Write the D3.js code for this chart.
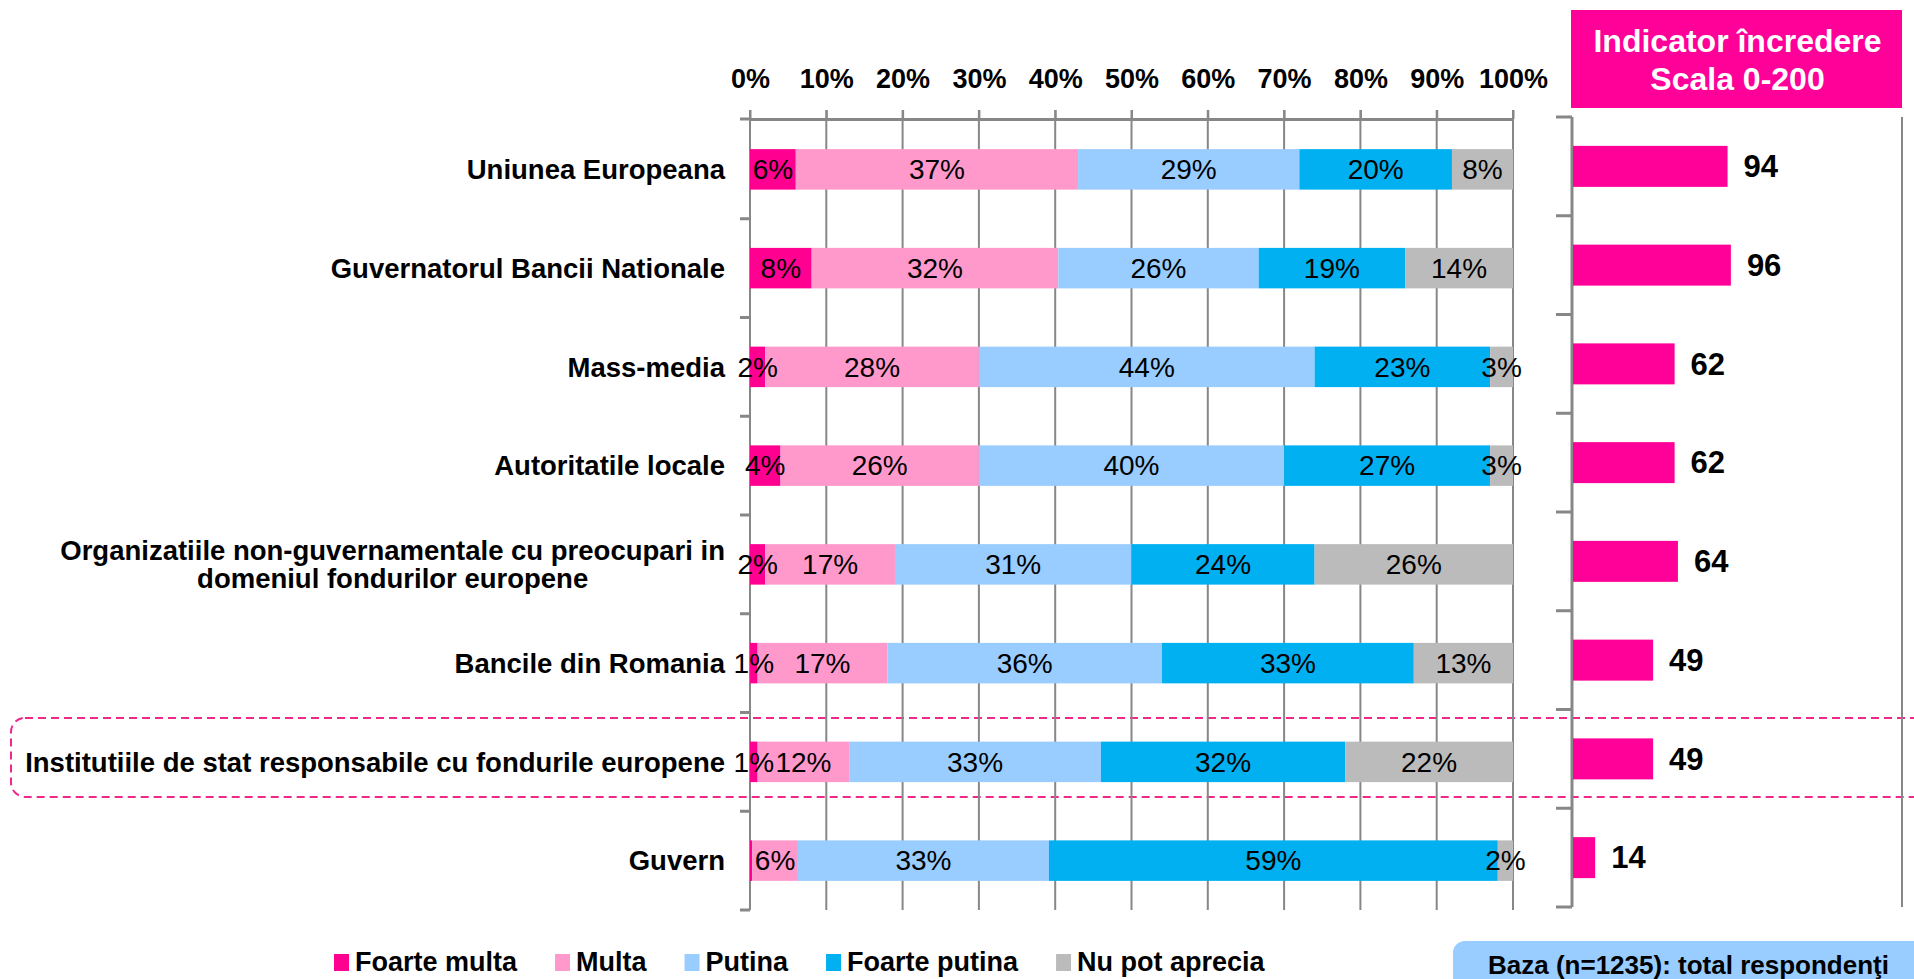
<!DOCTYPE html>
<html>
<head>
<meta charset="utf-8">
<script src="https://cdn.jsdelivr.net/npm/d3@7"></script>
<style>
  body { margin: 0; background: #fff; }
  svg { display: block; font-family: "Liberation Sans", Arial, sans-serif; }
</style>
</head>
<body>
<script>
const categories = [
	'Uniunea Europeana',
	'Guvernatorul Bancii Nationale',
	'Mass-media',
	'Autoritatile locale',
	'Organizatiile non-guvernamentale cu preocupari in domeniul fondurilor europene',
	'Bancile din Romania',
	'Institutiile de stat responsabile cu fondurile europene',
	'Guvern'
];
const series = ['Foarte multa', 'Multa', 'Putina', 'Foarte putina', 'Nu pot aprecia'];
const colors = ['#ff0090', '#ff99cc', '#99ccff', '#00b0f0', '#bbbbbb'];

const foarteMulta  = [6, 8, 2, 4, 2, 1, 1, 0.3];
const multa        = [37, 32, 28, 26, 17, 17, 12, 6];
const putina       = [29, 26, 44, 40, 31, 36, 33, 33];
const foartePutina = [20, 19, 23, 27, 24, 33, 32, 59];
const nuPot        = [8, 14, 3, 3, 26, 13, 22, 2];

const indicator = [94, 96, 62, 62, 64, 49, 49, 14];
const xTicks = [0, 10, 20, 30, 40, 50, 60, 70, 80, 90, 100];

const highlighted = 'Institutiile de stat responsabile cu fondurile europene';

const W = 1914, H = 979;
const svg = d3.select('body').append('svg').attr('width', W).attr('height', H);

const rows = categories.map((c, i) => ({
	cat: c,
	'Foarte multa': foarteMulta[i],
	'Multa': multa[i],
	'Putina': putina[i],
	'Foarte putina': foartePutina[i],
	'Nu pot aprecia': nuPot[i]
}));
const stacked = d3.stack().keys(series).offset(d3.stackOffsetExpand)(rows);

const x = d3.scaleLinear().domain([0, 1]).range([750, 1513]);
const y = d3.scaleBand().domain(categories).range([120, 910]).paddingInner(0.59).paddingOuter(0.295);
const color = d3.scaleOrdinal().domain(series).range(colors);

const xR = d3.scaleLinear().domain([0, 200]).range([1572, 1903]);
const yR = d3.scaleBand().domain(categories).range([117, 907]).paddingInner(0.585).paddingOuter(0.2925);

const grey = '#878787';

// dashed highlight around one row
const hy = y(highlighted) + y.bandwidth() / 2;
svg.append('rect')
	.attr('x', 11).attr('y', hy - 44)
	.attr('width', 1960).attr('height', 79)
	.attr('rx', 14)
	.attr('fill', 'none')
	.attr('stroke', '#f0288c').attr('stroke-width', 2)
	.attr('stroke-dasharray', '8,5');

// gridlines
svg.append('g').selectAll('line')
	.data(xTicks).join('line')
	.attr('x1', d => x(d / 100)).attr('x2', d => x(d / 100))
	.attr('y1', 110).attr('y2', 910)
	.attr('stroke', grey).attr('stroke-width', 2);

// top axis
const xAxis = svg.append('g')
	.attr('transform', 'translate(0,119)')
	.call(d3.axisTop(x).tickValues(xTicks.map(d => d / 100)).tickFormat(d3.format('.0%')).tickSize(9).tickSizeOuter(0).tickPadding(22));
xAxis.select('.domain').attr('stroke', grey).attr('stroke-width', 3);
xAxis.selectAll('.tick line').attr('stroke', grey).attr('stroke-width', 2);
xAxis.selectAll('text')
	.attr('font-size', 27).attr('font-weight', 'bold').attr('fill', '#000')
	.attr('font-family', '"Liberation Sans", Arial, sans-serif');

// boundary ticks on the left
const bounds = d3.range(categories.length + 1).map(i => y.range()[0] + i * y.step() - (i === 0 ? 1 : 0));
svg.append('g').selectAll('line')
	.data(bounds).join('line')
	.attr('x1', 740).attr('x2', x(0))
	.attr('y1', d => d).attr('y2', d => d)
	.attr('stroke', grey).attr('stroke-width', 3);

// stacked bars
const layer = svg.append('g').selectAll('g')
	.data(stacked).join('g')
	.attr('fill', d => color(d.key));
layer.selectAll('rect')
	.data(d => d).join('rect')
	.attr('x', d => x(d[0]))
	.attr('y', d => y(d.data.cat))
	.attr('width', d => x(d[1]) - x(d[0]))
	.attr('height', y.bandwidth());

// data labels
const labels = svg.append('g')
	.attr('font-size', 28).attr('fill', '#000').attr('text-anchor', 'middle');
stacked.forEach(s => {
	labels.selectAll(null)
		.data(s.filter(d => d.data[s.key] >= 1)).join('text')
		.attr('x', d => (x(d[0]) + x(d[1])) / 2)
		.attr('y', d => y(d.data.cat) + y.bandwidth() / 2)
		.attr('dy', '0.35em')
		.text(d => d3.format('.0f')(d.data[s.key]) + '%');
});

// category labels
const labelRight = 725;
const maxW = 700;
svg.append('g').selectAll('text')
	.data(categories).join('text')
	.attr('font-size', 27.5).attr('font-weight', 'bold').attr('fill', '#000')
	.each(function (d) {
		const t = d3.select(this);
		const words = d.split(' ');
		let lines = [], cur = [];
		const probe = t.append('tspan');
		words.forEach(w => {
			cur.push(w);
			probe.text(cur.join(' '));
			if (probe.node().getComputedTextLength() > maxW && cur.length > 1) {
				cur.pop();
				lines.push(cur.join(' '));
				cur = [w];
			}
		});
		lines.push(cur.join(' '));
		probe.remove();
		const cy = y(d) + y.bandwidth() / 2;
		const lh = 28;
		const spans = lines.map((l, i) => t.append('tspan')
			.attr('y', cy - (lines.length - 1) * lh / 2 + i * lh)
			.attr('dy', '0.35em')
			.text(l));
		if (lines.length === 1) {
			t.attr('text-anchor', 'end');
			spans.forEach(s => s.attr('x', labelRight));
		} else {
			const w = d3.max(spans, s => s.node().getComputedTextLength());
			t.attr('text-anchor', 'middle');
			spans.forEach(s => s.attr('x', labelRight - w / 2));
		}
	});

// right panel: trust indicator
svg.append('line')
	.attr('x1', xR(0)).attr('x2', xR(0))
	.attr('y1', yR.range()[0]).attr('y2', yR.range()[1])
	.attr('stroke', grey).attr('stroke-width', 3);
svg.append('line')
	.attr('x1', xR(200) - 1).attr('x2', xR(200) - 1)
	.attr('y1', yR.range()[0]).attr('y2', yR.range()[1])
	.attr('stroke', grey).attr('stroke-width', 2);
svg.append('g').selectAll('line')
	.data(d3.range(categories.length + 1).map(i => yR.range()[0] + i * yR.step()))
	.join('line')
	.attr('x1', xR(0) - 16).attr('x2', xR(0))
	.attr('y1', d => d).attr('y2', d => d)
	.attr('stroke', grey).attr('stroke-width', 3);

svg.append('g').selectAll('rect')
	.data(indicator).join('rect')
	.attr('x', xR(0) + 1)
	.attr('y', (d, i) => yR(categories[i]))
	.attr('width', d => xR(d) - xR(0) - 1)
	.attr('height', yR.bandwidth())
	.attr('fill', '#ff0099');

svg.append('g').selectAll('text')
	.data(indicator).join('text')
	.attr('x', d => xR(d) + 16)
	.attr('y', (d, i) => yR(categories[i]) + yR.bandwidth() / 2)
	.attr('dy', '0.35em')
	.attr('font-size', 31).attr('font-weight', 'bold').attr('fill', '#000')
	.text(d => d);

// header box
svg.append('rect')
	.attr('x', xR(0) - 1).attr('y', 10)
	.attr('width', xR(200) - xR(0)).attr('height', 98)
	.attr('fill', '#ff0099');
const hdr = svg.append('text')
	.attr('text-anchor', 'middle').attr('font-size', 32).attr('font-weight', 'bold').attr('fill', '#fff');
hdr.append('tspan').attr('x', (xR(0) + xR(200)) / 2).attr('y', 52).text('Indicator încredere');
hdr.append('tspan').attr('x', (xR(0) + xR(200)) / 2).attr('y', 90).text('Scala 0-200');

// legend
const legend = svg.append('g').attr('font-size', 27).attr('font-weight', 'bold');
let lx = 334;
series.forEach((s, i) => {
	legend.append('rect')
		.attr('x', lx).attr('y', 954).attr('width', 15).attr('height', 17)
		.attr('fill', colors[i]);
	const t = legend.append('text')
		.attr('x', lx + 21).attr('y', 971).attr('fill', '#000')
		.text(s);
	lx += 21 + t.node().getComputedTextLength() + 38;
});

// base note
svg.append('rect')
	.attr('x', 1453).attr('y', 941).attr('width', 520).attr('height', 80)
	.attr('rx', 12).attr('fill', '#99ccff');
svg.append('text')
	.attr('x', 1488).attr('y', 974)
	.attr('font-size', 26).attr('font-weight', 'bold').attr('fill', '#000')
	.text('Baza (n=1235): total respondenţi');
</script>
</body>
</html>
